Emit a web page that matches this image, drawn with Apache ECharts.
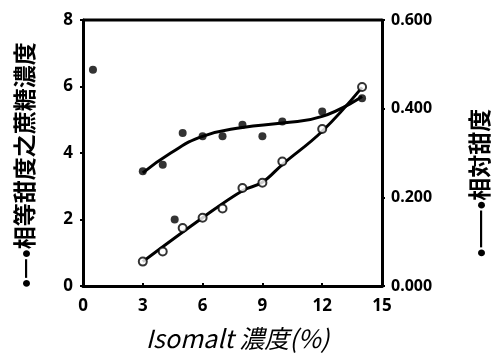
<!DOCTYPE html>
<html>
<head>
<meta charset="utf-8">
<script src="https://cdn.jsdelivr.net/npm/echarts@6/dist/echarts.min.js"></script>
<style>
html,body{margin:0;padding:0;background:#fff;}
#chart{width:497px;height:356px;}
</style>
</head>
<body>
<div id="chart"></div>
<script>
// 相等甜度之蔗糖濃度 (left axis), filled dots
var sucroseDots = [[0.5,6.5],[3,3.45],[4,3.65],[4.6,2.0],[5,4.6],[6,4.5],[7,4.5],[8,4.85],[9,4.5],[10,4.95],[12,5.25],[14,5.65]];
var sucroseCurve = [[3,3.4],[4.4,4.0],[6,4.5],[8,4.77],[10,4.9],[12,5.1],[14,5.7]];
// 相対甜度 (right axis), open circles
var sweetDots = [[3,0.055],[4,0.078],[5,0.131],[6,0.154],[7,0.175],[8,0.221],[9,0.233],[10,0.281],[12,0.354],[14,0.449]];
var sweetCurve = [[3,0.055],[6,0.154],[8,0.215],[9,0.234],[10,0.274],[12,0.349],[14,0.448]];

var leftName = '•—•相等甜度之蔗糖濃度';
var rightName = '•——•相対甜度';
var xName = 'Isomalt 濃度(%)';

var chart = echarts.init(document.getElementById('chart'), null, {renderer:'canvas'});

var lblFont = {color:'#000', fontFamily:'Noto Sans', fontWeight:'bold', fontSize:17};
var nameFont = 'bold 23px "Noto Sans CJK JP"';

var option = {
    backgroundColor:'#fff',
    animation:false,
    grid:{left:83, right:115, top:20, bottom:68},
    xAxis:{
        type:'value', min:0, max:15, interval:3,
        name:xName, nameLocation:'middle', nameGap:40,
        nameTextStyle:{color:'#000', fontFamily:'Noto Sans CJK JP', fontStyle:'italic', fontSize:25, padding:[0,0,0,10]},
        axisLine:{show:true, lineStyle:{color:'#000', width:3}},
        axisTick:{show:true, inside:true, length:3, lineStyle:{color:'#000', width:2}},
        axisLabel:Object.assign({margin:12}, lblFont),
        splitLine:{show:false}
    },
    yAxis:[{
        type:'value', min:0, max:8, interval:2, position:'left',
        axisLine:{show:true, lineStyle:{color:'#000', width:3}},
        axisTick:{show:true, length:3, lineStyle:{color:'#000', width:2}},
        axisLabel:Object.assign({margin:10}, lblFont),
        splitLine:{show:false}
    },{
        type:'value', min:0, max:0.6, interval:0.2, position:'right',
        axisLine:{show:true, lineStyle:{color:'#000', width:3}},
        axisTick:{show:true, length:3, lineStyle:{color:'#000', width:2}},
        axisLabel:Object.assign({margin:9, formatter:function(v){return v.toFixed(3);}}, lblFont, {fontSize:16}),
        splitLine:{show:false}
    }],
    series:[{
        type:'line', yAxisIndex:0, data:sucroseCurve, smooth:0.5, showSymbol:false,
        lineStyle:{color:'#000', width:3}, z:2
    },{
        type:'line', yAxisIndex:1, data:sweetCurve, smooth:0.4, showSymbol:false,
        lineStyle:{color:'#000', width:3}, z:2
    },{
        type:'scatter', yAxisIndex:0, data:sucroseDots, symbol:'circle', symbolSize:8,
        itemStyle:{color:'#000'}, z:4
    },{
        type:'scatter', yAxisIndex:1, data:sweetDots, symbol:'circle', symbolSize:8,
        itemStyle:{color:'#fff', borderColor:'#000', borderWidth:2}, z:5
    }],
    graphic:[{
        type:'line', shape:{x1:83, y1:20, x2:382, y2:20},
        style:{stroke:'#000', lineWidth:3}
    },{
        type:'text', x:24, y:165, rotation:Math.PI/2,
        style:{text:leftName, font:nameFont, fill:'#000', align:'center', verticalAlign:'middle'}
    },{
        type:'text', x:479, y:183, rotation:Math.PI/2,
        style:{text:rightName, font:nameFont, fill:'#000', align:'center', verticalAlign:'middle'}
    }]
};
chart.setOption(option);
</script>
</body>
</html>
